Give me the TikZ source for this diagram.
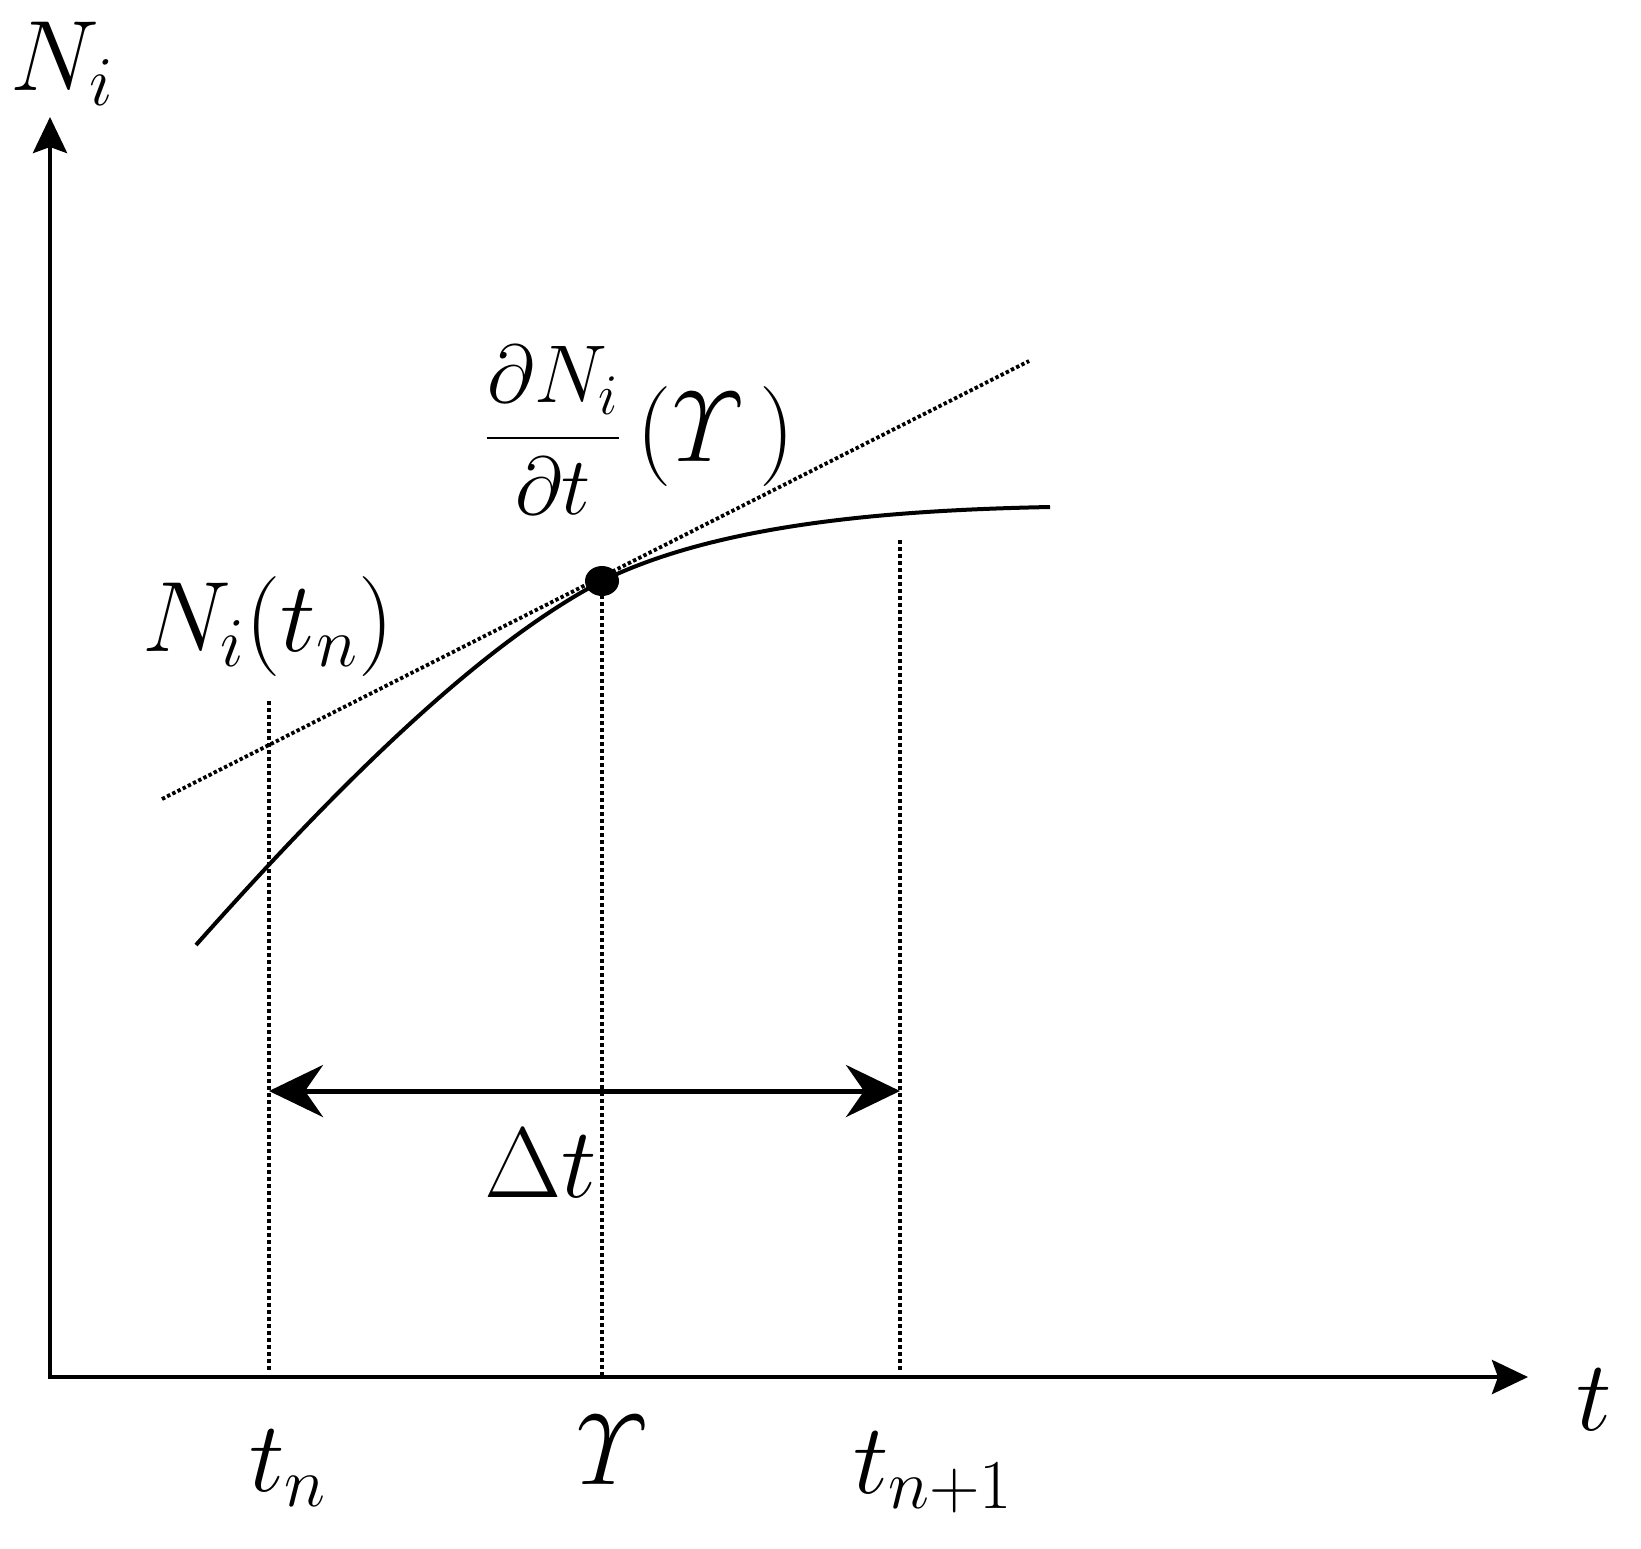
\RequirePackage{fix-cm}
\documentclass[tikz,border=0pt]{standalone}
\usepackage{amsmath}
\usetikzlibrary{arrows.meta,shapes.geometric}
\begin{document}
\begin{tikzpicture}[x=0.5pt,y=-0.5pt,
  axis/.style={line width=2.2pt,line join=miter,{Stealth[length=18pt,width=17pt,inset=3pt]}-{Stealth[length=18pt,width=17pt,inset=3pt]}},
  curve/.style={line width=2pt},
  tangent/.style={line width=1.9pt,dash pattern=on 1.7pt off 1.2pt},
  guide/.style={line width=1.6pt,dash pattern=on 2.2pt off 1.3pt},
  dim/.style={line width=2.5pt,{Stealth[length=27pt,width=26pt,inset=9pt]}-{Stealth[length=27pt,width=26pt,inset=9pt]}},
  lbl/.style={font=\fontsize{50}{60}\selectfont, inner sep=0pt},
  small/.style={font=\fontsize{41}{48}\selectfont, inner sep=0pt},
  dot/.style={ellipse, fill=black, minimum width=17pt, minimum height=15pt, inner sep=0pt}]
\useasboundingbox (0,0) rectangle (1641,1548);
% axes
\coordinate (O) at (50,1377);
\coordinate (Ytip) at (50,117);
\coordinate (Xtip) at (1528,1377);
\draw[axis] (Ytip) -- (O) -- (Xtip);
% tangent
\coordinate (Ta) at (162,799);
\coordinate (Tb) at (1029,361);
\draw[tangent] (Ta) -- (Tb);
% curve
\coordinate (C0) at (196,945);
\coordinate (P) at (602,581);
\coordinate (C1) at (1050,507);
\draw[curve] (C0) .. controls (340,783) and (480,645) .. (P) .. controls (722,522) and (900,510) .. (C1);
% guides
\coordinate (Gtn) at (269,701);
\coordinate (Btn) at (269,1372);
\coordinate (Bg) at (602,1377);
\coordinate (Gtn1) at (900,540);
\coordinate (Btn1) at (900,1372);
\draw[guide] (Gtn) -- (Btn);
\draw[guide] (P) -- (Bg);
\draw[guide] (Gtn1) -- (Btn1);
\node[dot] (pt) at (P) {};
% delta t
\coordinate (Da) at (269,1091);
\coordinate (Db) at (900,1091);
\draw[dim] (Da) -- (Db);
% labels
\node[lbl] (lNi) at (62,64) {$N_i$};
\node[lbl] (lt) at (1594,1400) {$t$};
\node[lbl] (ltn) at (288,1468) {$t_n$};
\node[lbl] (lG) at (612,1450) {$\varUpsilon$};
\node[lbl] (ltn1) at (933,1472) {$t_{n+1}$};
\node[lbl] (ldt) at (541,1163) {$\Delta t$};
\node[lbl] (lNitn) at (268,626) {$N_i(t_n)$};
\node[small] (lfrac) at (553,430) {$\dfrac{\partial N_i}{\partial t}$};
\node[lbl] (lpar) at (716,436) {$(\varUpsilon\,)$};
\end{tikzpicture}
\end{document}
